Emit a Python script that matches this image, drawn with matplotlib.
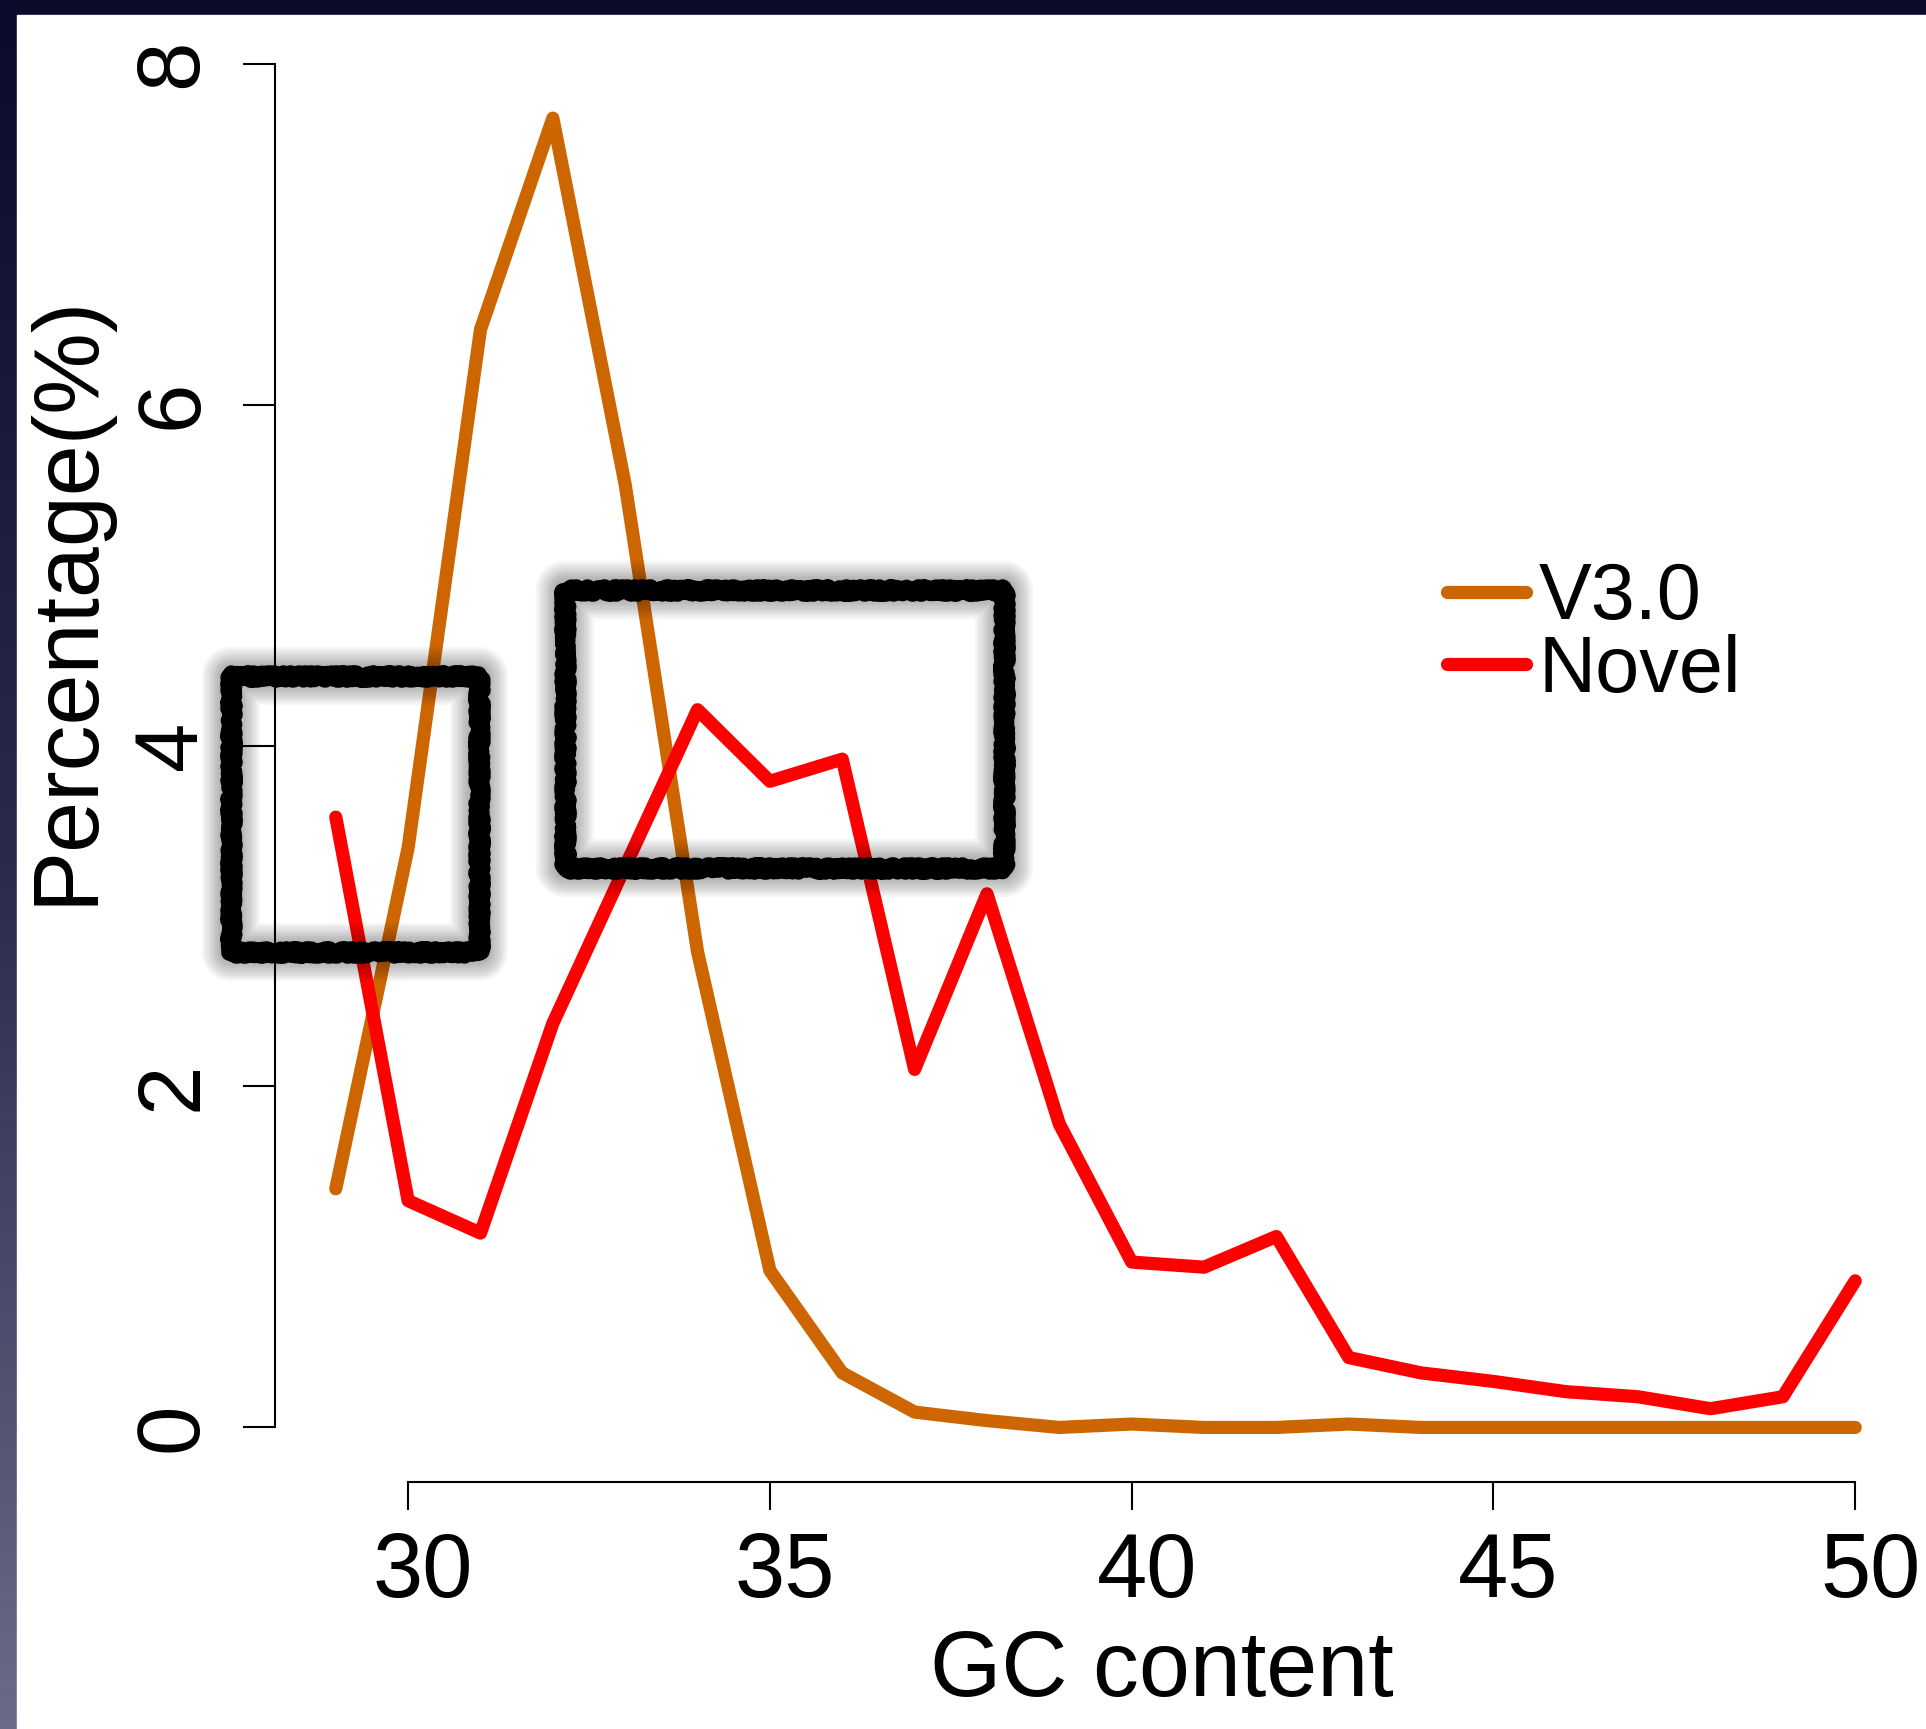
import numpy as np
import matplotlib
matplotlib.use('Agg')
import matplotlib.pyplot as plt
from matplotlib.patches import Rectangle
from matplotlib.colors import LinearSegmentedColormap
from matplotlib.transforms import ScaledTranslation

# GC content bins and percentages
gc_content = [29, 30, 31, 32, 33, 34, 35, 36, 37, 38, 39, 40, 41, 42, 43, 44, 45, 46, 47, 48, 49, 50]
v30 = [1.40, 3.40, 6.44, 7.68, 5.53, 2.79, 0.92, 0.32, 0.09, 0.04, 0.00, 0.02,
       0.00, 0.00, 0.02, 0.00, 0.00, 0.00, 0.00, 0.00, 0.00, 0.00]
novel = [3.58, 1.33, 1.14, 2.37, 3.29, 4.21, 3.79, 3.92, 2.10, 3.13, 1.78, 0.97,
         0.94, 1.12, 0.41, 0.32, 0.27, 0.21, 0.18, 0.11, 0.18, 0.86]

x_ticks = [30, 35, 40, 45, 50]
y_ticks = [0, 2, 4, 6, 8]

# highlighted regions (hand drawn boxes): x range, y range
box_x = [(27.55, 30.98), (32.17, 38.24)]
box_y = [(2.79, 4.41), (3.28, 4.91)]

W, H = 1926, 1729
plt.rcParams['font.family'] = ['Liberation Sans', 'DejaVu Sans']

fig = plt.figure(figsize=(W / 100, H / 100), dpi=100)

# slide background: navy top, gradient strip on the left, white page
bg = fig.add_axes([0, 0, 1, 1], zorder=0)
grad = np.linspace(0, 1, 256).reshape(-1, 1)
cmap = LinearSegmentedColormap.from_list('slide', ['#0b0a2b', '#2a2a4e', '#6c6b87'])
bg.imshow(grad, aspect='auto', cmap=cmap, extent=[0, 1, 0, 1], origin='upper')
bg.add_patch(Rectangle((17 / W, 0), 1, 1 - 15 / H, color='white', transform=bg.transAxes))
bg.set_xlim(0, 1)
bg.set_ylim(0, 1)
bg.axis('off')

ax = fig.add_axes([275 / W, (H - 1482) / H, 1641 / W, 1473 / H], zorder=1)
ax.set_facecolor('none')

ax.plot(gc_content, v30, color='#cd6600', lw=9.5, solid_joinstyle='round',
        solid_capstyle='round', label='V3.0', zorder=3)
ax.plot(gc_content, novel, color='#ff0000', lw=9.5, solid_joinstyle='round',
        solid_capstyle='round', label='Novel', zorder=3)

# black sketchy boxes with soft shadow
for (x0, x1), (y0, y1) in zip(box_x, box_y):
    for w in np.linspace(14, 42, 10):
        ax.add_patch(Rectangle((x0, y0), x1 - x0, y1 - y0, fill=False, ec='black',
                               lw=w, alpha=0.035, zorder=4, clip_on=False, joinstyle='round'))
    for seed_lw in [12, 10]:
        r = Rectangle((x0, y0), x1 - x0, y1 - y0, fill=False, ec='black', lw=seed_lw,
                      zorder=5, clip_on=False, joinstyle='round', capstyle='round')
        r.set_sketch_params(scale=3, length=3, randomness=10)
        ax.add_patch(r)

ax.set_xlim(28.16, 50.84)
ax.set_ylim(-0.32, 8.32)

for s in ['top', 'right']:
    ax.spines[s].set_visible(False)
ax.spines['left'].set_bounds(0, 8)
ax.spines['bottom'].set_bounds(30, 50)
ax.spines['left'].set_linewidth(1.5)
ax.spines['bottom'].set_linewidth(1.5)

ax.set_xticks(x_ticks)
ax.set_yticks(y_ticks)
ax.tick_params(axis='x', length=20, width=1.5, pad=15, labelsize=65)
ax.tick_params(axis='y', length=23, width=1.5, pad=20, labelsize=64)
for lab in ax.get_yticklabels():
    lab.set_rotation(90)
    lab.set_va('center')
for lab in ax.get_xticklabels():
    lab.set_transform(lab.get_transform() + ScaledTranslation(0.15, 0, fig.dpi_scale_trans))

ax.set_xlabel('GC content', fontsize=66)
ax.xaxis.set_label_coords(0.5405, -0.100)
ax.set_ylabel('Percentage(%)', fontsize=66)
ax.yaxis.set_label_coords(-0.100, 0.599)

ax.legend(loc='upper left', bbox_to_anchor=(0.714, 0.625), frameon=False,
          fontsize=57, handlelength=1.0, handletextpad=0.16, labelspacing=-0.03,
          borderpad=0, borderaxespad=0)

fig.savefig('out.png', dpi=100)
